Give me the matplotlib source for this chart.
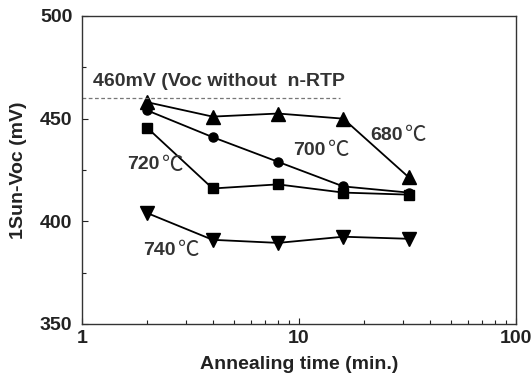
import matplotlib
matplotlib.use("Agg")
import matplotlib.pyplot as plt
from matplotlib.ticker import FixedLocator, NullFormatter

plt.rcParams['font.family'] = ['Liberation Sans', 'DejaVu Sans']
plt.rcParams['font.weight'] = 'bold'

times = [2, 4, 8, 16, 32]
voc_680 = [458, 451, 452.5, 450, 421.5]
voc_700 = [454, 441, 429, 417, 414]
voc_720 = [445.5, 416, 418, 414, 413]
voc_740 = [404, 391, 389.5, 392.5, 391.5]
ref_voc = 460

fig = plt.figure(figsize=(5.32, 3.74), dpi=100)
ax = fig.add_axes([82/532, 1 - 324/374, (516-82)/532, (324-16)/374])

lw = 1.3
ax.plot(times, voc_680, color='black', lw=lw, marker='^', ms=9.5)
ax.plot(times, voc_700, color='black', lw=lw, marker='o', ms=6.5)
ax.plot(times, voc_720, color='black', lw=lw, marker='s', ms=6.5)
ax.plot(times, voc_740, color='black', lw=lw, marker='v', ms=9.5)

ax.plot([1, 15.4], [ref_voc, ref_voc], color='#777777', lw=0.9, ls=(0, (3, 2)))

ax.set_xscale('log')
ax.set_xlim(1, 100)
ax.set_ylim(350, 500)
ax.set_xticks([1, 10, 100])
ax.set_xticklabels(['1', '10', '100'])
ax.set_yticks([350, 400, 450, 500])
ax.yaxis.set_minor_locator(FixedLocator([375, 425, 475]))
ax.yaxis.set_minor_formatter(NullFormatter())

fs = 14
ax.tick_params(which='both', direction='in', labelsize=fs, colors='#222222',
               width=0.8)
ax.tick_params(which='major', length=4)
ax.tick_params(which='minor', length=3)
ax.tick_params(axis='x', pad=4)
ax.tick_params(axis='y', pad=7)
for s in ax.spines.values():
    s.set_color('#333333')
    s.set_linewidth(1.0)

ax.set_xlabel('Annealing time (min.)', fontsize=fs, fontweight='bold',
              color='#222222', labelpad=7)
ax.set_ylabel('1Sun-Voc (mV)', fontsize=fs, fontweight='bold',
              color='#222222', labelpad=9)

tc = '#333333'
ax.text(1.12, 468, '460mV (Voc without  n-RTP', fontsize=fs, color=tc,
        fontweight='bold', va='center', ha='left')


def temp_label(x, y, value):
    t = ax.text(x, y, value, fontsize=fs, color=tc, fontweight='bold',
                va='center', ha='left')
    ax.annotate('\u2103', xy=(1, 0.5), xycoords=t, xytext=(2, 0),
                textcoords='offset points', fontsize=fs + 1.5, color=tc,
                fontweight='normal', family=['Noto Sans CJK SC', 'DejaVu Sans'],
                va='center', ha='left')


temp_label(21.2, 442, '680')
temp_label(9.4, 434.5, '700')
temp_label(1.61, 427.5, '720')
temp_label(1.91, 386, '740')

fig.savefig('out.png', dpi=100)
